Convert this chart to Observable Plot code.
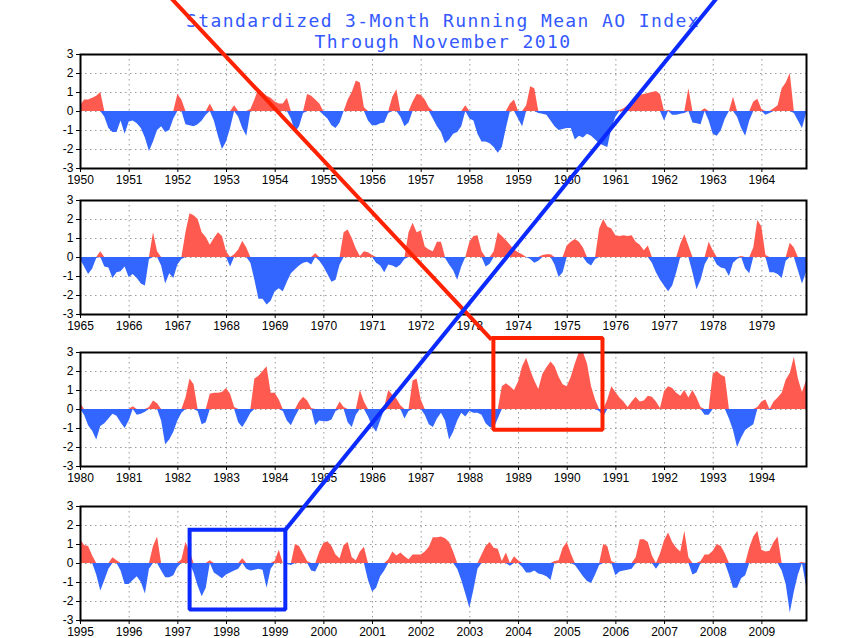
<!DOCTYPE html>
<html><head><meta charset="utf-8">
<script src="https://cdn.jsdelivr.net/npm/d3@7"></script>
<script src="https://cdn.jsdelivr.net/npm/@observablehq/plot@0.6"></script>
<style>
body{margin:0;background:#fff;}
#chart{position:relative;width:853px;height:638px;overflow:hidden;background:#fff;}
#chart svg{position:absolute;left:0;}
.title{position:absolute;left:443px;transform:translateX(-50%);font-family:"DejaVu Sans Mono",monospace;font-size:18px;letter-spacing:1.4px;color:#3358ff;line-height:21px;white-space:pre;text-align:center;}
</style></head><body><div id="chart"></div>
<script>
const titleLines = ["Standardized 3-Month Running Mean AO Index", "Through November 2010"];
const panelStarts = [1950, 1965, 1980, 1995];
const yTicks = [-3, -2, -1, 0, 1, 2, 3];
const yGrid = [-2, -1, 0, 1, 2];

// monthly 3-month running mean AO index, Jan..Dec of each year
const ao1950_1964 = [
  0.3, 0.6, 0.6, 0.7, 0.8, 1.0, -0.3, -0.9, -1.1, -1.1, -0.5, -1.2,
  -0.55, -0.5, -0.65, -0.9, -1.4, -2.1, -1.6, -1.0, -0.8, -1.1, -1.0, -0.4,
  0.9, 0.6, -0.7, -0.75, -0.8, -0.7, -0.5, -0.2, 0.4, -0.5, -1.3, -2.0,
  -1.6, -0.9, 0.3, -0.3, -0.9, -1.3, 0.1, 0.6, 1.2, 1.0, 0.8, 0.7,
  0.5, 0.4, 0.4, 0.7, -0.4, -1.1, -0.8, -0.1, 0.9, 0.8, 0.6, 0.4,
  -0.2, -0.4, -0.75, -0.9, -0.6, 0.0, 0.6, 1.0, 1.6, 1.5, 0.2, -0.5,
  -0.75, -0.75, -0.65, -0.6, -0.1, 0.75, 1.15, -0.3, -0.8, -0.6, 0.5, 0.9,
  0.85, 0.6, 0.2, -0.4, -0.8, -1.1, -1.7, -1.5, -1.2, -1.1, -0.8, 0.3,
  -0.4, -0.5, -1.2, -1.6, -1.6, -1.7, -1.9, -2.2, -1.9, -0.9, 0.4, 0.6,
  -0.4, -0.8, 0.3, 1.3, 1.2, -0.1, -0.15, -0.2, -0.5, -0.8, -1.0, -0.95,
  -0.9, -0.9, -1.5, -1.3, -1.4, -1.2, -1.3, -1.5, -1.7, -1.8, -1.9, -0.9,
  -0.3, 0.05, 0.15, 0.3, 0.5, 0.65, 0.85, 0.9, 0.95, 1.0, 1.05, 0.9,
  -0.5, 0.05, -0.2, -0.2, -0.15, -0.1, 1.2, -0.6, -0.65, -0.7, 0.15, -0.5,
  -1.2, -1.3, -1.0, -0.4, 0.0, 0.75, -0.3, -0.9, -1.3, -0.5, 0.5, 0.65,
  0.1, -0.2, -0.1, 0.15, 0.3, 1.2, 1.5, 2.0, -0.1, -0.5, -0.9, -0.1
];
const ao1965_1979 = [
  -0.1, -0.5, -0.9, -0.6, -0.05, 0.3, -0.5, -0.55, -1.1, -0.8, -0.75, -0.5,
  -1.05, -0.9, -1.1, -1.4, -1.5, -0.1, 1.3, 0.3, -0.45, -1.4, -0.85, -1.1,
  -0.4, -0.1, 1.3, 2.3, 2.2, 2.0, 1.3, 1.05, 0.65, 1.0, 1.3, 1.1,
  0.3, -0.5, 0.15, 0.4, 0.85, 0.5, -0.3, -1.2, -2.2, -2.2, -2.5, -2.3,
  -1.8, -1.65, -1.8, -1.3, -0.85, -0.65, -0.45, -0.3, -0.25, -0.4, 0.2, -0.2,
  -0.5, -0.9, -1.3, -1.2, -0.4, 1.3, 1.45, 1.0, 0.45, 0.05, 0.3, 0.25,
  0.1, -0.3, -0.45, -0.8, -0.4, -0.45, -0.55, -0.4, -0.1, 1.3, 1.8, 1.3,
  1.4, 0.55, 0.4, 0.3, 0.8, 0.8, -0.05, -0.4, -0.7, -1.2, -0.5, 0.0,
  0.8, 1.1, 1.15, 0.3, -0.5, -0.35, 0.3, 1.3, 1.1, 0.9, 0.65, 0.4,
  0.25, 0.15, 0.0, -0.1, -0.3, -0.2, 0.1, 0.15, 0.15, -0.4, -1.05, -0.8,
  0.6, 0.8, 0.95, 0.8, 0.5, -0.3, -0.45, -0.1, 1.5, 2.0, 1.6, 1.5,
  1.15, 1.1, 1.15, 1.1, 1.15, 0.8, 0.65, 0.35, 0.6, -0.3, -0.8, -1.2,
  -1.5, -1.8, -1.5, -0.8, 0.7, 1.2, 0.6, -0.8, -1.7, -1.2, -0.4, 0.8,
  0.35, -0.4, -0.55, -0.6, -1.0, -0.3, -0.1, 0.05, -0.6, -0.85, 0.5, 1.95,
  1.6, 0.1, -0.8, -0.8, -0.9, -1.1, -0.2, 0.75, 0.5, -0.7, -1.4, -0.8
];
const ao1980_1994 = [
  0.3, -0.3, -0.85, -1.15, -1.6, -0.9, -0.75, -0.5, -0.25, -0.35, -0.7, -1.0,
  -0.6, 0.15, -0.3, -0.25, -0.15, 0.1, 0.45, 0.3, -0.6, -1.85, -1.6, -1.2,
  -0.6, -0.2, 0.6, 1.6, 1.3, -0.1, -0.8, -0.7, 0.8, 0.85, 0.85, 0.9,
  1.1, 0.8, 0.1, -0.7, -0.95, -0.6, -0.2, 1.6, 1.75, 2.0, 2.25, 0.85,
  0.85, 0.5, -0.1, -0.6, -0.85, -0.4, 0.4, 0.65, 0.45, 0.05, -0.85, -0.6,
  -0.65, -0.65, -0.55, -0.1, 0.4, 0.1, -0.7, -0.95, -0.3, 1.0, 0.4, -0.4,
  -0.9, -1.2, -0.6, 0.1, 1.0, 0.75, 0.55, 0.2, -0.5, -0.1, 1.5, 1.6,
  0.5, -0.3, -0.8, -0.95, -0.5, -0.2, -0.6, -1.6, -1.2, -0.6, -0.2, -0.4,
  -0.1, -0.2, -0.2, -0.3, -0.75, -0.95, -1.0, -0.5, 1.2, 1.35, 1.2, 1.0,
  1.45, 2.25, 2.7, 2.05, 1.5, 1.05, 1.85, 2.2, 2.5, 2.25, 1.7, 1.3,
  1.2, 1.7, 2.4, 3.0, 3.0, 2.4, 1.2, 0.5, -0.1, -0.4, 0.5, 1.2,
  0.9, 0.6, 0.4, 0.1, 0.4, 0.65, 0.4, 0.45, 0.7, 0.65, 0.4, 0.05,
  0.95, 1.2, 1.1, 0.85, 0.7, 1.0, 0.6, 1.0, 0.6, 0.1, -0.3, -0.3,
  1.85, 2.0, 1.8, 1.7, -0.5, -1.1, -2.0, -1.5, -1.1, -0.95, -0.8, 0.1,
  0.4, 0.5, -0.05, 0.4, 0.6, 0.85, 1.55, 1.9, 2.75, 1.6, 0.9, 1.5
];
const ao1995_2009 = [
  1.25, 0.95, 0.9, 0.4, -0.6, -1.45, -0.9, -0.3, 0.3, 0.15, -0.4, -1.1,
  -1.1, -0.9, -0.7, -1.0, -1.6, -0.3, 0.9, 1.4, -0.4, -0.75, -0.75, -0.65,
  -0.2, 0.2, 1.1, 0.6, -0.5, -1.2, -1.75, -1.3, 0.15, -0.5, -0.65, -0.8,
  -0.6, -0.5, -0.4, -0.3, 0.25, -0.3, -0.4, -0.35, -0.3, -0.35, -1.3, -0.3,
  0.12, 0.7, 0.0, -0.05, -0.1, 1.0, 0.9, 0.5, 0.1, -0.4, -0.45, 0.6,
  1.05, 1.15, 0.9, 0.45, 0.25, 0.95, 1.1, 0.3, 0.15, 0.6, 0.85, -0.9,
  -1.5, -1.3, -0.7, -0.4, 0.2, 0.6, 0.4, 0.55, 0.35, 0.2, 0.45, 0.45,
  0.45, 0.6, 0.85, 1.35, 1.35, 1.4, 1.3, 1.1, 0.6, -0.3, -0.9, -1.6,
  -2.35, -1.4, -0.3, 0.45, 0.9, 1.1, 0.8, 0.75, 0.1, 0.55, -0.15, 0.35,
  0.15, -0.2, -0.5, -0.5, -0.4, -0.55, -0.6, -0.7, -0.9, 0.1, 0.15, 0.8,
  1.1, 0.5, -0.1, -0.4, -0.7, -0.95, -1.05, -0.6, -0.1, 1.0, 0.9, 0.1,
  -0.65, -0.45, -0.4, -0.35, -0.3, 0.3, 1.25, 1.25, 1.1, 0.4, -0.3, 0.5,
  1.2, 1.6, 1.1, 0.8, 0.6, 1.7, 0.3, -0.6, -0.5, 0.1, 0.45, 0.45,
  0.65, 1.0, 0.9, 0.5, -0.6, -1.3, -1.3, -0.8, -0.65, 0.8, 1.4, 1.7,
  0.7, 0.6, 0.65, 1.1, 1.4, -0.4, -1.1, -2.6, -1.5, -0.6, 0.05, -1.2
];
const series = [ao1950_1964, ao1965_1979, ao1980_1994, ao1995_2009];

// annotations, in (panel, month index, index value) coordinates
const redBox = {panel: 2, m0: 101.8, m1: 128.7, v0: -1.06, v1: 3.76};
const redLineEnds = [{panel: 0, m: 22.2, v: 6.0}, {panel: 2, m: 101.0, v: 3.76}];
const blueBox = {panel: 3, m0: 26.9, m1: 50.5, v0: -2.42, v1: 1.77};
const blueLineEnds = [{panel: 3, m: 50.5, v: 1.77}, {panel: 0, m: 157.0, v: 6.0}];

const RED = "#ff5a50", BLUE = "#3366ff";
const ANN_RED = "#ff2200", ANN_BLUE = "#0a2aff";
const panelTops = [48, 194, 346, 500];

const chart = document.getElementById("chart");
titleLines.forEach((t, k) => {
  const d = document.createElement("div");
  d.className = "title";
  d.textContent = t;
  d.style.top = (10 + 21 * k) + "px";
  chart.appendChild(d);
});

const plots = series.map((vals, k) => {
  const start = panelStarts[k];
  const data = vals.map((v, i) => ({i, v}));
  const yearTicks = d3.range(0, vals.length - 1, 12);
  const p = Plot.plot({
    width: 853, height: 144,
    marginLeft: 80, marginRight: 47, marginTop: 6, marginBottom: 24,
    style: {fontFamily: "Liberation Sans, Arial, sans-serif", fontSize: "12px", background: "transparent", color: "black", overflow: "visible"},
    x: {domain: [0, vals.length - 1], ticks: yearTicks, tickFormat: i => String(start + i / 12), tickSize: 4, tickPadding: 3, label: null},
    y: {domain: [-3, 3], ticks: yTicks, tickFormat: d => String(d), tickSize: 4, tickPadding: 3, label: null},
    marks: [
      Plot.ruleX(yearTicks.slice(1), {stroke: "#9a9a9a", strokeDasharray: "1.5,3.5"}),
      Plot.ruleY(yGrid, {stroke: "#9a9a9a", strokeDasharray: "1.5,3.5"}),
      Plot.areaY(data, {x: "i", y1: () => 0, y2: d => Math.max(0, d.v), fill: RED}),
      Plot.areaY(data, {x: "i", y1: () => 0, y2: d => Math.min(0, d.v), fill: BLUE}),
      Plot.frame({stroke: "black", strokeWidth: 2})
    ]
  });
  p.style.top = panelTops[k] + "px";
  chart.appendChild(p);
  return p;
});

function applyScale(s, v) {
  if (s.apply) return s.apply(v);
  return d3.scaleLinear(s.domain, s.range)(v);
}
function toPage(panel, m, v) {
  const p = plots[panel];
  return {px: applyScale(p.scale("x"), m), py: applyScale(p.scale("y"), v) + panelTops[panel]};
}
function boxPts(b, g) {
  return [[b.m0, b.v1], [b.m1, b.v1], [b.m1, b.v0], [b.m0, b.v0], [b.m0, b.v1]]
    .map(([m, v]) => ({...toPage(b.panel, m, v), g}));
}
const redPts = [...boxPts(redBox, "box"), ...redLineEnds.map(e => ({...toPage(e.panel, e.m, e.v), g: "line"}))];
const bluePts = [...boxPts(blueBox, "box"), ...blueLineEnds.map(e => ({...toPage(e.panel, e.m, e.v), g: "line"}))];

const overlay = Plot.plot({
  width: 853, height: 638, margin: 0,
  x: {type: "identity", axis: null},
  y: {type: "identity", axis: null},
  style: {background: "transparent", overflow: "visible"},
  marks: [
    Plot.line(redPts, {x: "px", y: "py", z: "g", stroke: ANN_RED, strokeWidth: 4, strokeLinejoin: "miter", strokeLinecap: "square"}),
    Plot.line(bluePts, {x: "px", y: "py", z: "g", stroke: ANN_BLUE, strokeWidth: 4, strokeLinejoin: "miter", strokeLinecap: "square"})
  ]
});
overlay.style.top = "0px";
overlay.style.pointerEvents = "none";
chart.appendChild(overlay);
</script></body></html>
